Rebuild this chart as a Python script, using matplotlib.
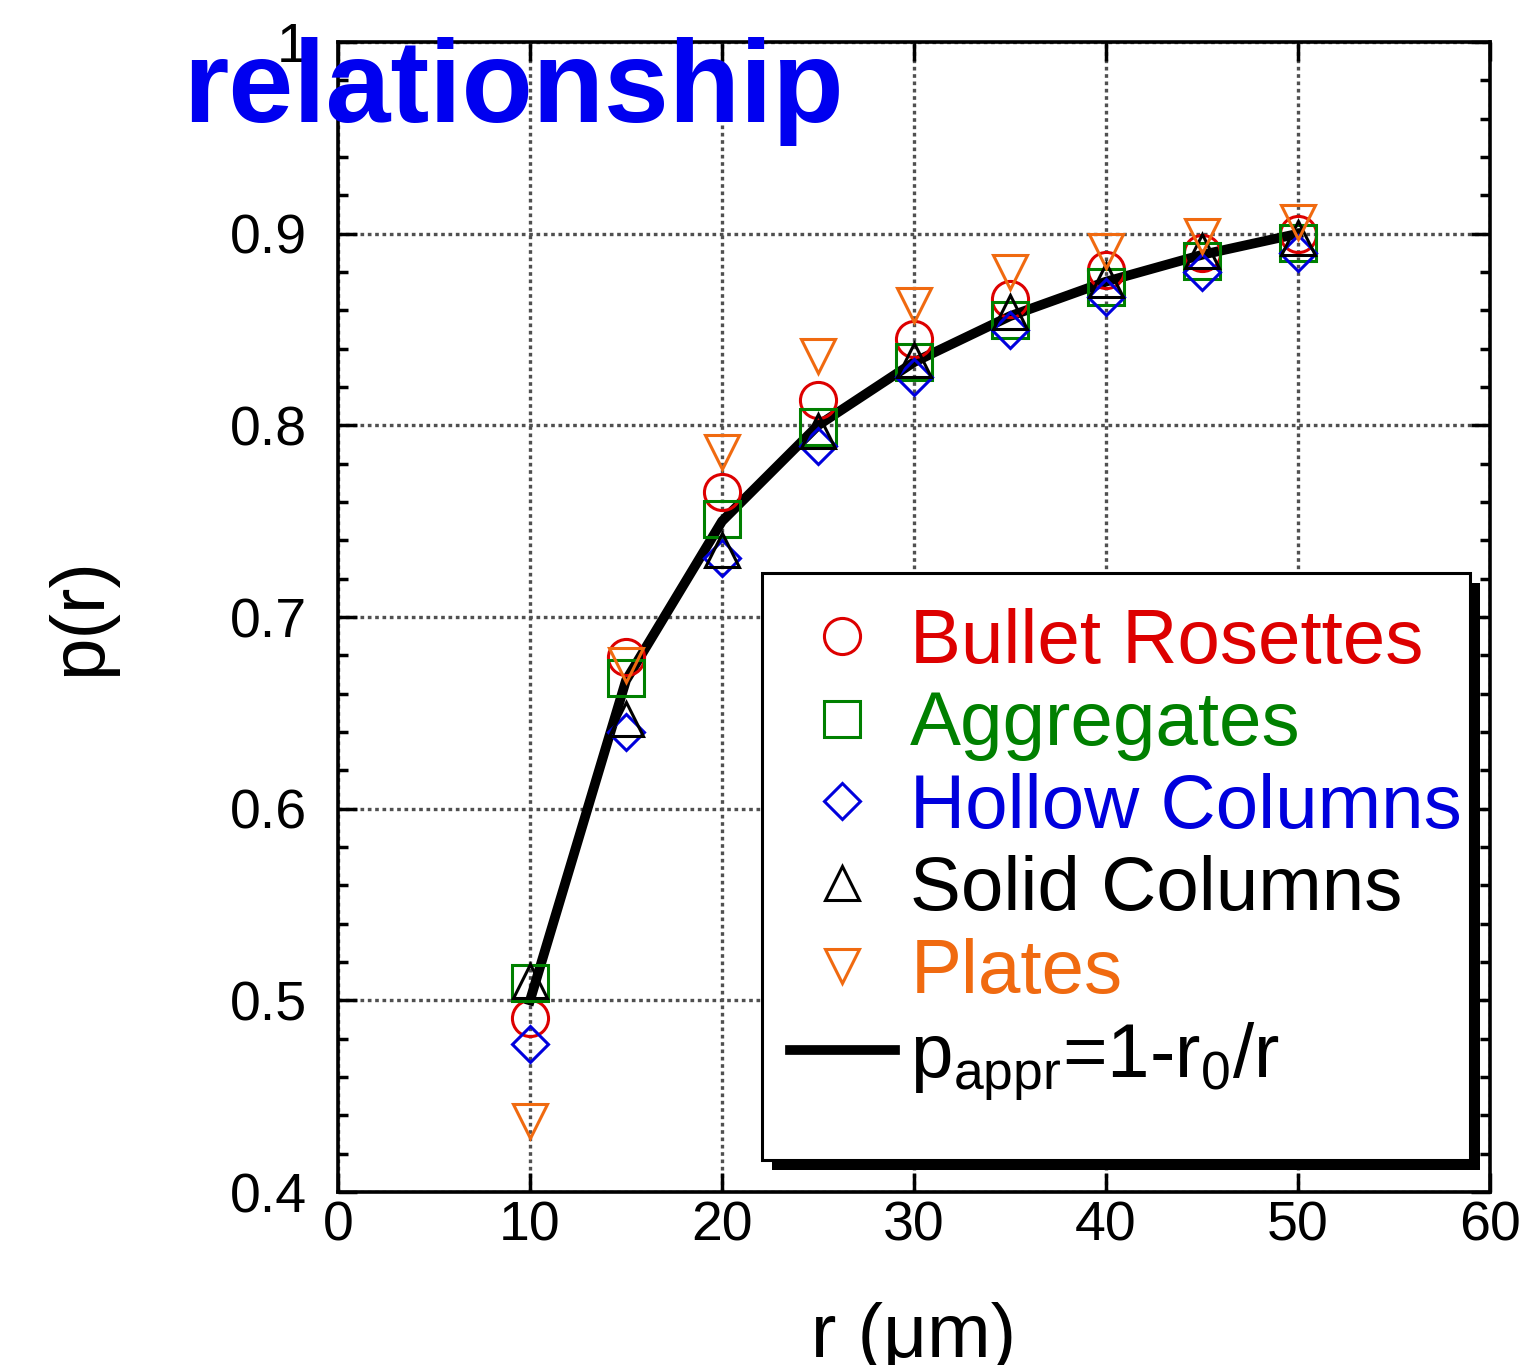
import numpy as np
import matplotlib as mpl
mpl.use('Agg')
import matplotlib.pyplot as plt
from matplotlib.patches import Rectangle
from matplotlib.ticker import MultipleLocator

plt.rcParams['font.family'] = ['Liberation Sans', 'DejaVu Sans']
plt.rcParams['mathtext.fontset'] = 'custom'
plt.rcParams['mathtext.rm'] = 'Liberation Sans'
plt.rcParams['mathtext.it'] = 'Liberation Sans'

# 数据 (r in um)
r = [10, 15, 20, 25, 30, 35, 40, 45, 50]
bullet = [0.491, 0.679, 0.765, 0.813, 0.845, 0.866, 0.881, 0.890, 0.900]
aggregates = [0.509, 0.668, 0.751, 0.799, 0.833, 0.855, 0.872, 0.886, 0.895]
hollow = [0.477, 0.640, 0.731, 0.789, 0.825, 0.850, 0.867, 0.880, 0.890]
solid = [0.510, 0.647, 0.735, 0.797, 0.834, 0.859, 0.876, 0.891, 0.898]
plates = [0.437, 0.675, 0.786, 0.836, 0.863, 0.880, 0.891, 0.899, 0.906]
p_appr = [0.500, 0.667, 0.750, 0.800, 0.833, 0.857, 0.875, 0.889, 0.900]

c_red = '#dd0000'
c_green = '#008000'
c_blue = '#0000dd'
c_orange = '#f06a10'

fig = plt.figure(figsize=(15.22, 13.65), dpi=100)
ax = fig.add_axes([0.2221, 0.1267, 0.7569, 0.8425])

mew = 2.2
ax.plot(r, p_appr, color='black', lw=7, zorder=2, label=r'p$_{\mathrm{appr}}$=1-r$_{\mathrm{0}}$/r')
ax.plot(r, bullet, 'o', ms=26, mfc='none', mec=c_red, mew=mew, label='Bullet Rosettes', zorder=3)
ax.plot(r, aggregates, 's', ms=26, mfc='none', mec=c_green, mew=mew, label='Aggregates', zorder=3)
ax.plot(r, hollow, 'D', ms=18.5, mfc='none', mec=c_blue, mew=mew, label='Hollow Columns', zorder=3)
ax.plot(r, solid, '^', ms=24, mfc='none', mec='black', mew=mew, label='Solid Columns', zorder=3)
ax.plot(r, plates, 'v', ms=24, mfc='none', mec=c_orange, mew=mew, label='Plates', zorder=3)

ax.set_xlim(0, 60)
ax.set_ylim(0.4, 1.0)
ax.xaxis.set_major_locator(MultipleLocator(10))
ax.yaxis.set_minor_locator(MultipleLocator(0.02))
ax.set_yticks([0.4, 0.5, 0.6, 0.7, 0.8, 0.9, 1.0])
ax.set_yticklabels(['0.4', '0.5', '0.6', '0.7', '0.8', '0.9', '1'])

ax.grid(True, which='major', color='#505050', linestyle=(0, (1.1, 1.1)), lw=2.4)
ax.tick_params(which='both', direction='in', top=True, right=True, width=2.5, labelsize=40)
ax.tick_params(which='major', length=14)
ax.tick_params(which='minor', length=7)
ax.tick_params(axis='x', pad=6)
ax.tick_params(axis='y', pad=22)
for s in ax.spines.values():
    s.set_linewidth(2.6)

ax.set_xlabel('r (μm)', fontsize=55, labelpad=36)
ax.set_ylabel('p(r)', fontsize=55, labelpad=82)

# 图例框 + 阴影
box_x0, box_y0, box_x1, box_y1 = 0.368, 0.0278, 0.983, 0.538
sh = 0.0087
ax.add_patch(Rectangle((box_x0 + sh, box_y0 - sh), box_x1 - box_x0, box_y1 - box_y0,
                       transform=ax.transAxes, facecolor='black', edgecolor='none',
                       zorder=5, clip_on=False))
ax.add_patch(Rectangle((box_x0, box_y0), box_x1 - box_x0, box_y1 - box_y0,
                       transform=ax.transAxes, facecolor='white', edgecolor='black',
                       lw=2.2, zorder=5.1, clip_on=False))

handles, labels = ax.get_legend_handles_labels()
order = [1, 2, 3, 4, 5, 0]
leg = ax.legend([handles[i] for i in order], [labels[i] for i in order],
                loc='upper left', bbox_to_anchor=(0.392, 0.508), borderaxespad=0,
                fontsize=55, frameon=False, handlelength=1.38, handletextpad=0.2,
                labelspacing=0.15, borderpad=0)
for txt, col in zip(leg.get_texts(), [c_red, c_green, c_blue, 'black', c_orange, 'black']):
    txt.set_color(col)
leg.set_zorder(6)

fig.text(0.12, 0.9106, 'relationship', fontsize=84, fontweight='bold', color='#0000f0',
         va='baseline', ha='left')

plt.savefig('out.png', dpi=100)
